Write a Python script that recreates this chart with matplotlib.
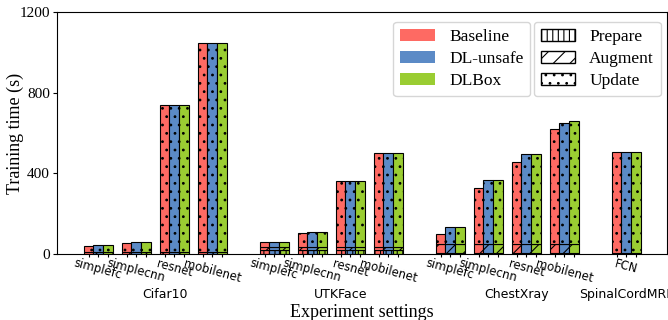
import matplotlib
matplotlib.use("Agg")
import matplotlib.pyplot as plt
from matplotlib.patches import Patch
import numpy as np

groups = ["Cifar10", "UTKFace", "ChestXray", "SpinalCordMRI"]
models = [["simplefc", "simplecnn", "resnet", "mobilenet"],
          ["simplefc", "simplecnn", "resnet", "mobilenet"],
          ["simplefc", "simplecnn", "resnet", "mobilenet"],
          ["FCN"]]
systems = ["Baseline", "DL-unsafe", "DLBox"]
colors = ["#fe6a63", "#5b8ac6", "#9acd32"]

# total training time per model, [Baseline, DL-unsafe, DLBox]
totals = [
    [40, 44, 44], [53, 58, 60], [737, 738, 737], [1048, 1045, 1045],
    [61, 61, 61], [103, 111, 111], [363, 364, 364], [500, 500, 500],
    [99, 132, 133], [329, 365, 365], [456, 494, 494], [620, 649, 658],
    [504, 504, 507],
]
# prepare / augment time per model (same for all systems)
prepare = [2, 2, 2, 2, 18, 18, 18, 18, 3, 3, 3, 3, 2]
augment = [8, 8, 8, 8, 18, 18, 18, 18, 45, 45, 45, 45, 3]

phases = ["Prepare", "Augment", "Update"]
hatches = ["|||", "//", ".."]

plt.rcParams["font.family"] = "Liberation Serif"
plt.rcParams["hatch.linewidth"] = 0.8

fig = plt.figure(figsize=(6.68, 3.2), dpi=100)
ax = fig.add_axes([0.085, 0.206, 0.9135, 0.7565])

w = 0.255
gap = 0.63
centers = []
group_centers = []
x = 0.0
for g, ms in enumerate(models):
    start = x
    for m in ms:
        centers.append(x)
        x += 1
    group_centers.append((start + x - 1) / 2)
    x += gap

bar_pos = []
for i, c in enumerate(centers):
    for s in range(3):
        xp = c + (s - 1) * w
        bar_pos.append(xp)
        tot = totals[i][s]
        parts = [prepare[i], augment[i], tot - prepare[i] - augment[i]]
        bottom = 0
        for p, h in zip(parts, hatches):
            ax.bar(xp, p, w, bottom=bottom, color=colors[s], edgecolor="black",
                   linewidth=0.8, hatch=h)
            bottom += p

ax.set_xlim(-1.09, 14.96)
ax.set_ylim(0, 1200)
ax.set_yticks([0, 400, 800, 1200])
ax.tick_params(axis="y", labelsize=11, length=3, pad=2)

ax.xaxis.remove_overlapping_locs = False
ax.set_xticks(bar_pos)
ax.set_xticklabels([])
ax.tick_params(axis="x", which="major", length=2.5)
labels = [m for ms in models for m in ms]
ax.set_xticks(centers, minor=True)
ax.set_xticklabels(labels, minor=True, rotation=-15, ha="center",
                   fontsize=8.4, family="DejaVu Sans")
ax.tick_params(axis="x", which="minor", length=0, pad=2)

for i, (g, gc) in enumerate(zip(groups, group_centers)):
    # single-model group label sits nearly centred, the others are nudged right
    shift = 0.25 if len(models[i]) > 1 else -0.05
    ax.text(gc + shift, -0.14, g, transform=ax.get_xaxis_transform(),
            ha="center", va="top", fontsize=9, family="DejaVu Sans")

ax.set_ylabel("Training time (s)", fontsize=13)
ax.yaxis.set_label_coords(-0.053, 0.5)
ax.set_xlabel("Experiment settings", fontsize=13)
ax.xaxis.set_label_coords(0.5, -0.205)

h1 = [Patch(facecolor=c, label=s) for c, s in zip(colors, systems)]
h2 = [Patch(facecolor="white", edgecolor="black", hatch=h, label=p)
      for h, p in zip(hatches, phases)]
leg1 = ax.legend(handles=h1, loc="upper right", bbox_to_anchor=(0.776, 0.96),
                 borderaxespad=0, fontsize=12.5, labelspacing=0.35)
ax.add_artist(leg1)
ax.legend(handles=h2, loc="upper right", bbox_to_anchor=(0.99, 0.96),
          borderaxespad=0, fontsize=12.5, labelspacing=0.35)

fig.savefig("out.png", dpi=100)
